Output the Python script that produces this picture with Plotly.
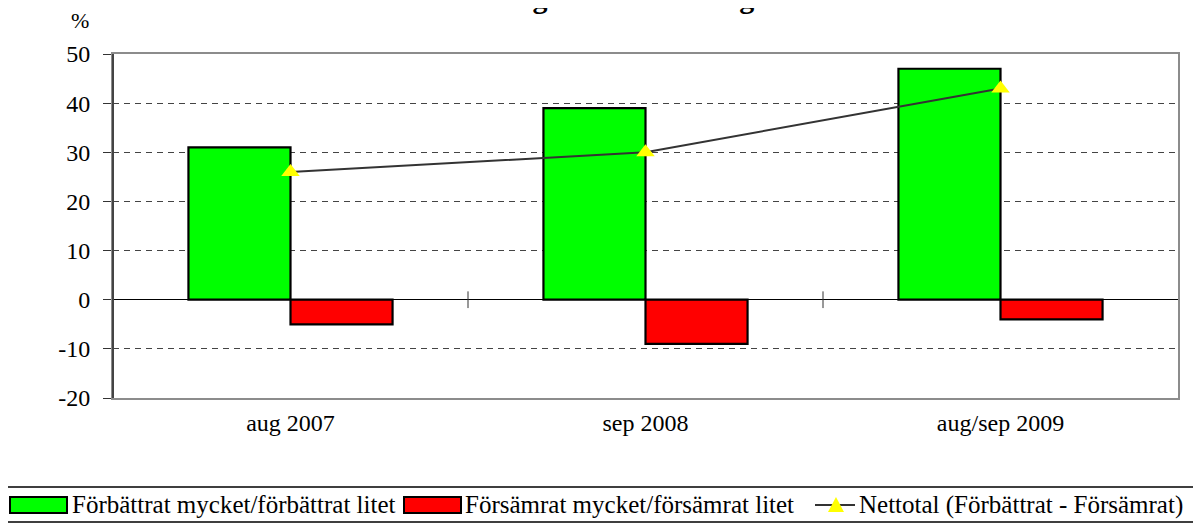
import plotly.graph_objects as go

categories = ["aug 2007", "sep 2008", "aug/sep 2009"]
forbattrat = [31, 39, 47]
forsamrat = [-5, -9, -4]
nettotal = [26, 30, 43]
y_ticks = [-20, -10, 0, 10, 20, 30, 40, 50]
y_tick_labels = ["-20", "-10", "0", "10", "20", "30", "40", "50"]

title_text = "Företagare i hela Sverige"
name_green = "Förbättrat mycket/förbättrat litet"
name_red = "Försämrat mycket/försämrat litet"
name_line = "Nettotal (Förbättrat - Försämrat)"

GREEN, RED, YELLOW, LINE = "#00ff00", "#ff0000", "#ffff00", "#333333"
FONT = "Liberation Serif, Times New Roman, serif"
FS = 24

fig = go.Figure()
fig.add_trace(go.Bar(
    x=categories, y=forbattrat, name=name_green,
    marker=dict(color=GREEN, line=dict(color="black", width=2.2)),
))
fig.add_trace(go.Bar(
    x=categories, y=forsamrat, name=name_red,
    marker=dict(color=RED, line=dict(color="black", width=2.2)),
))
fig.add_trace(go.Scatter(
    x=categories, y=nettotal, name=name_line, mode="lines+markers",
    line=dict(color=LINE, width=2),
    marker=dict(symbol="triangle-up", color=YELLOW, size=16, line=dict(width=0)),
))

# page body has an 8px margin: the figure sits at (8, 8) in the window
OFF = 8
W, H = 1201 - OFF, 524 - OFF
L, R, T, B = 113 - OFF, 23, 54 - OFF, 126
pw, ph = W - L - R, H - T - B
plot_bottom = H - B  # figure pixel of plot bottom


def py(page_y):
    return (plot_bottom - (page_y - OFF)) / ph


def px(page_x):
    return (page_x - OFF - L) / pw


fig.update_layout(
    width=W, height=H,
    margin=dict(l=L, r=R, t=T, b=B, pad=0, autoexpand=False),
    paper_bgcolor="white", plot_bgcolor="white",
    font=dict(family=FONT, color="black", size=FS),
    barmode="group", bargap=0.425, bargroupgap=0,
    showlegend=False,
    xaxis=dict(
        type="category", showgrid=False, ticks="", showline=True,
        linecolor="#8c8c8c", linewidth=2, mirror=True, automargin=False,
        tickfont=dict(family=FONT, size=FS, color="black"),
        ticklabelstandoff=2,
    ),
    yaxis=dict(
        range=[-20, 50], tickvals=y_ticks, ticktext=y_tick_labels,
        ticks="outside", ticklen=8, tickcolor="#333", tickwidth=1,
        showgrid=True, gridcolor="#444444", gridwidth=1, griddash="6px,5px",
        zeroline=True, zerolinecolor="black", zerolinewidth=1,
        showline=True, linecolor="#8c8c8c", linewidth=2, mirror=True,
        automargin=False,
        tickfont=dict(family=FONT, size=FS, color="black"),
        ticklabelstandoff=8,
    ),
)

# darker left axis line
fig.add_shape(type="line", xref="paper", yref="paper", x0=0, x1=0, y0=0, y1=1,
              line=dict(color="#444444", width=2))

# crossing tick marks at category boundaries on the zero line
for b in [0.5, 1.5]:
    fig.add_shape(type="line", xref="x", yref="y", x0=b, x1=b, y0=-1.7, y1=1.7,
                  line=dict(color="#333333", width=1))

# ---- legend (drawn as a boxed row like the reference) ----
fig.add_shape(type="rect", xref="paper", yref="paper",
              x0=px(2), x1=px(1199), y0=py(522), y1=py(487),
              line=dict(color="black", width=1.5), fillcolor="rgba(0,0,0,0)")

LEG_Y = 505
legend_items = [
    dict(kind="rect", color=GREEN, x0=10, x1=67, text_x=70, name=name_green),
    dict(kind="rect", color=RED, x0=404, x1=461, text_x=463, name=name_red),
    dict(kind="line", color=LINE, x0=815, x1=855, text_x=857, name=name_line),
]
for it in legend_items:
    if it["kind"] == "rect":
        fig.add_shape(type="rect", xref="paper", yref="paper",
                      x0=px(it["x0"]), x1=px(it["x1"]),
                      y0=py(LEG_Y + 8), y1=py(LEG_Y - 8),
                      line=dict(color="black", width=2), fillcolor=it["color"])
    else:
        fig.add_shape(type="line", xref="paper", yref="paper",
                      x0=px(it["x0"]), x1=px(it["x1"]), y0=py(LEG_Y), y1=py(LEG_Y),
                      line=dict(color=it["color"], width=2))
        cx = (it["x0"] + it["x1"]) / 2 + 1
        tri = "M {:.5f},{:.5f} L {:.5f},{:.5f} L {:.5f},{:.5f} Z".format(
            px(cx - 8), py(LEG_Y + 7), px(cx + 8), py(LEG_Y + 7), px(cx), py(LEG_Y - 8))
        fig.add_shape(type="path", xref="paper", yref="paper", path=tri,
                      fillcolor=YELLOW, line=dict(width=0))
    fig.add_annotation(text=it["name"], xref="paper", yref="paper",
                       x=px(it["text_x"]), y=py(LEG_Y), xanchor="left", yanchor="middle",
                       showarrow=False, font=dict(family=FONT, size=25, color="black"))

# % label
fig.add_annotation(text="%", xref="paper", yref="paper",
                   x=px(80), y=py(20),
                   xanchor="center", yanchor="middle", showarrow=False,
                   font=dict(family=FONT, size=FS - 2, color="black"))

# title (cut off at top as in reference)
fig.add_annotation(text="<b>" + title_text + "</b>", xref="paper", yref="paper",
                   x=px(608), y=py(16),
                   xanchor="center", yanchor="bottom", showarrow=False,
                   font=dict(family=FONT, size=30, color="black"))

fig.write_html("out.html")
